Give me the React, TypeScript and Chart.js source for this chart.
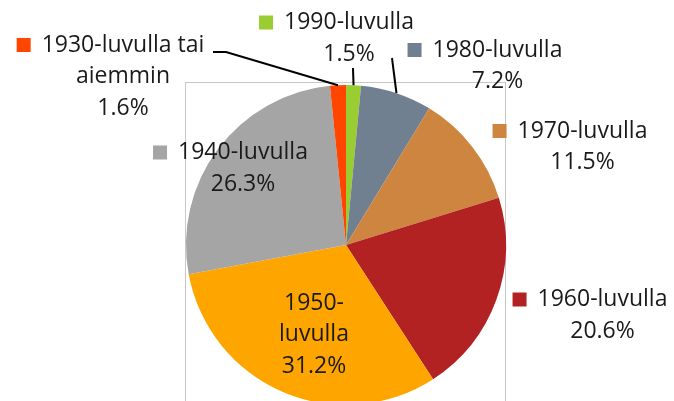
import React, { useEffect, useRef } from "react";
import { Chart, registerables } from "chart.js";

Chart.register(...registerables);

const categories = [
  "1990-luvulla",
  "1980-luvulla",
  "1970-luvulla",
  "1960-luvulla",
  "1950-luvulla",
  "1940-luvulla",
  "1930-luvulla tai aiemmin",
];
const labelLines = [
  ["1990-luvulla"],
  ["1980-luvulla"],
  ["1970-luvulla"],
  ["1960-luvulla"],
  ["1950-", "luvulla"],
  ["1940-luvulla"],
  ["1930-luvulla tai", "aiemmin"],
];
const shares = [1.5, 7.2, 11.5, 20.6, 31.2, 26.3, 1.6];
const colors = ["#9ACD32", "#708090", "#CD853F", "#B22222", "#FFA500", "#A5A5A5", "#FF4500"];
const showKey = [true, true, true, true, false, true, true];

// label anchor offsets from the pie centre (design units, radius = 160)
const labelOffsets = [
  [3, -222.5],
  [151.5, -195],
  [236.5, -114],
  [256.5, 54.5],
  [-32, 58],
  [-103, -92.5],
  [-223, -200],
];
// leader line points (design units relative to centre), ending on the arc's mid-angle edge
const leaders: Record<number, number[][]> = {
  0: [[7, -177]],
  1: [[46, -187]],
  6: [[-133, -193], [-120, -193]],
};

const FONT = "23px 'Open Sans'";
const LINE_H = 31.5;

const labelPlugin = {
  id: "pieLabels",
  beforeDatasetsDraw(chart: any) {
    const { ctx, chartArea } = chart;
    ctx.save();
    ctx.strokeStyle = "#c8c8c8";
    ctx.lineWidth = 1;
    ctx.strokeRect(
      Math.round(chartArea.left) - 0.5,
      Math.round(chartArea.top) - 2.5,
      chartArea.right - chartArea.left,
      chartArea.bottom - chartArea.top + 40
    );
    ctx.restore();
  },
  afterDatasetsDraw(chart: any) {
    const { ctx } = chart;
    const meta = chart.getDatasetMeta(0);
    const arcs = meta.data;
    if (!arcs.length) return;
    const cx = arcs[0].x;
    const cy = arcs[0].y;
    const r = arcs[0].outerRadius;
    const s = r / 160;
    ctx.save();
    // leader lines
    ctx.strokeStyle = "#000";
    ctx.lineWidth = 2;
    Object.keys(leaders).forEach((k) => {
      const i = Number(k);
      const a = arcs[i];
      const mid = (a.startAngle + a.endAngle) / 2;
      const pts = leaders[i];
      ctx.beginPath();
      ctx.moveTo(cx + pts[0][0] * s, cy + pts[0][1] * s);
      for (let j = 1; j < pts.length; j++) ctx.lineTo(cx + pts[j][0] * s, cy + pts[j][1] * s);
      ctx.lineTo(cx + Math.cos(mid) * r, cy + Math.sin(mid) * r);
      ctx.stroke();
    });
    // labels
    ctx.font = FONT;
    ctx.textAlign = "center";
    ctx.textBaseline = "middle";
    labelLines.forEach((lines, i) => {
      const all = [...lines, shares[i].toFixed(1) + "%"];
      const x = cx + labelOffsets[i][0] * s;
      const y = cy + labelOffsets[i][1] * s;
      ctx.fillStyle = "#1a1a1a";
      all.forEach((t, j) => ctx.fillText(t, x, y + j * LINE_H));
      if (showKey[i]) {
        const w = ctx.measureText(all[0]).width;
        ctx.fillStyle = colors[i];
        ctx.fillRect(x - w / 2 - 11 - 14, y - 7, 14, 14);
      }
    });
    ctx.restore();
  },
};

export default function App() {
  const ref = useRef<HTMLCanvasElement>(null);
  useEffect(() => {
    if (!ref.current) return;
    const chart = new Chart(ref.current, {
      type: "pie",
      data: {
        labels: categories,
        datasets: [
          {
            data: shares,
            backgroundColor: colors,
            borderWidth: 0,
          },
        ],
      },
      options: {
        responsive: false,
        animation: false,
        layout: { padding: { left: 186, right: 168, top: 85, bottom: 15 } },
        plugins: { legend: { display: false }, tooltip: { enabled: false } },
      },
      plugins: [labelPlugin],
    });
    return () => chart.destroy();
  }, []);
  return (
    <div
      style={{
        position: "fixed",
        left: 0,
        top: 0,
        width: 674,
        height: 401,
        overflow: "hidden",
        background: "#fff",
      }}
    >
      <canvas ref={ref} width={674} height={420} style={{ display: "block" }} />
    </div>
  );
}
